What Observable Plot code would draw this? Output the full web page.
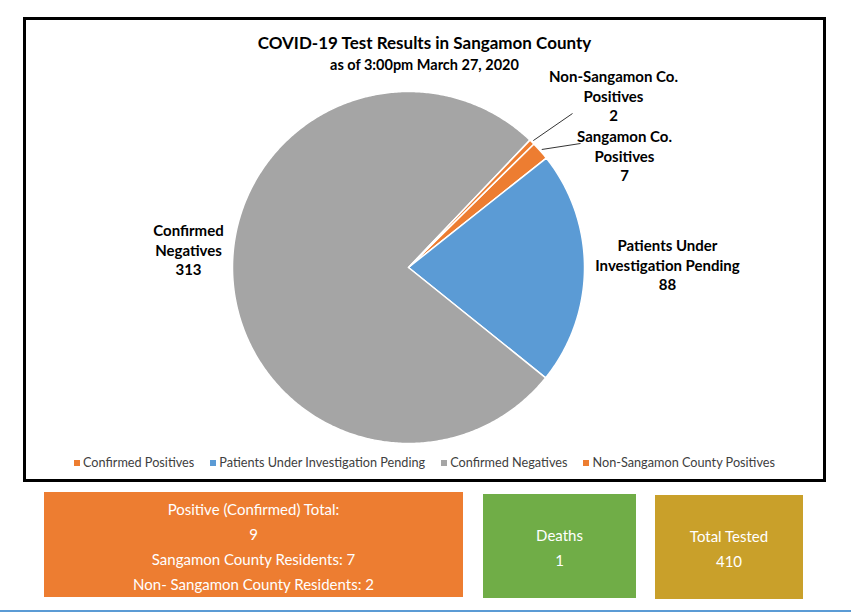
<!DOCTYPE html>
<html><head><meta charset="utf-8">
<script src="https://cdn.jsdelivr.net/npm/d3@7"></script>
<script src="https://cdn.jsdelivr.net/npm/@observablehq/plot@0.6"></script>
<style>
body{margin:0;background:#fff;font-family:Lato,"Open Sans",sans-serif;}
#page{position:relative;width:851px;height:614px;overflow:hidden;background:#fff;}
#box{position:absolute;left:23px;top:17px;width:797px;height:459px;border:3px solid #000;background:#fff;}
#chart{position:absolute;left:0;top:0;}
.t{position:absolute;left:0;right:0;text-align:center;font-weight:bold;color:#000;white-space:nowrap;}
#title{top:12px;font-size:17px;line-height:22px;}
#subtitle{top:36px;font-size:14.5px;line-height:18px;}
#legend{position:absolute;left:0;right:0;top:434px;text-align:center;font-size:12.7px;line-height:16px;color:#404040;white-space:nowrap;}
#legend span.item{margin:0 8px;}
#legend i{display:inline-block;width:6px;height:6px;margin-right:3px;vertical-align:1px;}
.card{position:absolute;color:#fff;text-align:center;font-size:15px;line-height:25px;white-space:nowrap;}
#bar{position:absolute;left:0;width:851px;top:610px;height:2px;background:#5B9BD5;}
</style></head>
<body>
<div id="page">
  <div id="box">
    <div id="chart"></div>
    <div class="t" id="title">COVID-19 Test Results in Sangamon County</div>
    <div class="t" id="subtitle">as of 3:00pm March 27, 2020</div>
    <div id="legend"></div>
  </div>
  <div id="cards"></div>
  <div id="bar"></div>
</div>
<script>
// ---- data ----
const categories = ["Confirmed Positives", "Patients Under Investigation Pending", "Confirmed Negatives", "Non-Sangamon County Positives"];
const values = [7, 88, 313, 2];
const colors = ["#ED7D31", "#5B9BD5", "#A5A5A5", "#ED7D31"];
const sliceLabels = ["Sangamon Co.\nPositives\n7", "Patients Under\nInvestigation Pending\n88", "Confirmed\nNegatives\n313", "Non-Sangamon Co.\nPositives\n2"];
const cardTitles = ["Positive (Confirmed) Total:", "Deaths", "Total Tested"];
const cardValues = ["9", "1", "410"];
const cardDetails = [["Sangamon County Residents: 7", "Non- Sangamon County Residents: 2"], [], []];
const cardColors = ["#ED7D31", "#70AD47", "#C9A02A"];

// ---- layout ----
const R = 176;                 // pie radius in px
const startDeg = 45.4;         // first slice angle (clockwise from 12 o'clock)
const W = 797, H = 430, cx = 382, cy = 247;
// label placements (px from pie center, y up) and leader-line ends
const labelPos = [[216, 112], [259, 3], [-220, 18], [205, 172]];
const leaderEnd = [[172, 124], null, null, [164, 154]];

const arcs = d3.pie().sort(null)
  .startAngle(startDeg * Math.PI / 180)
  .endAngle(startDeg * Math.PI / 180 + 2 * Math.PI)(values);

const pts = [];
arcs.forEach((a, i) => {
  pts.push({cat: categories[i], k: i, x: 0, y: 0});
  const n = Math.max(2, Math.ceil((a.endAngle - a.startAngle) / 0.01));
  for (let j = 0; j <= n; j++) {
    const t = a.startAngle + (a.endAngle - a.startAngle) * j / n;
    pts.push({cat: categories[i], k: i, x: R * Math.sin(t), y: R * Math.cos(t)});
  }
});

const labels = arcs.map((a, i) => ({text: sliceLabels[i], x: labelPos[i][0], y: labelPos[i][1]}));
const leaders = [];
arcs.forEach((a, i) => {
  if (!leaderEnd[i]) return;
  const m = (a.startAngle + a.endAngle) / 2;
  leaders.push({x1: (R + 2) * Math.sin(m), y1: (R + 2) * Math.cos(m), x2: leaderEnd[i][0], y2: leaderEnd[i][1]});
});

const chart = Plot.plot({
  width: W, height: H, margin: 0,
  style: {background: "transparent", overflow: "visible"},
  x: {domain: [-cx, W - cx], axis: null},
  y: {domain: [-(H - cy), cy], axis: null},
  color: {domain: categories, range: colors},
  marks: [
    Plot.line(pts, {x: "x", y: "y", z: "k", fill: "cat", stroke: "#fff", strokeWidth: 1.5, curve: "linear-closed"}),
    Plot.link(leaders, {x1: "x1", y1: "y1", x2: "x2", y2: "y2", stroke: "#000", strokeWidth: 0.8}),
    Plot.text(labels, {x: "x", y: "y", text: "text", fontSize: 15, fontWeight: "bold", fill: "#000", lineHeight: 1.3, fontFamily: "Lato"})
  ]
});
document.getElementById("chart").appendChild(chart);

// legend
const leg = document.getElementById("legend");
categories.forEach((c, i) => {
  const s = document.createElement("span");
  s.className = "item";
  s.innerHTML = `<i style="background:${colors[i]}"></i>${c}`;
  leg.appendChild(s);
});

// cards
const cardBoxes = [[44, 492, 419, 105, 5], [483, 494, 153, 104, 28.5], [655, 495, 148, 104, 28.5]];
const cards = document.getElementById("cards");
cardTitles.forEach((t, i) => {
  const [l, tp, w, h, pad] = cardBoxes[i];
  const d = document.createElement("div");
  d.className = "card";
  Object.assign(d.style, {left: l + "px", top: tp + "px", width: w + "px", height: h - pad + "px", paddingTop: pad + "px", background: cardColors[i]});
  d.innerHTML = [t, cardValues[i], ...cardDetails[i]].map(s => `<div>${s}</div>`).join("");
  cards.appendChild(d);
});
</script>
</body></html>
